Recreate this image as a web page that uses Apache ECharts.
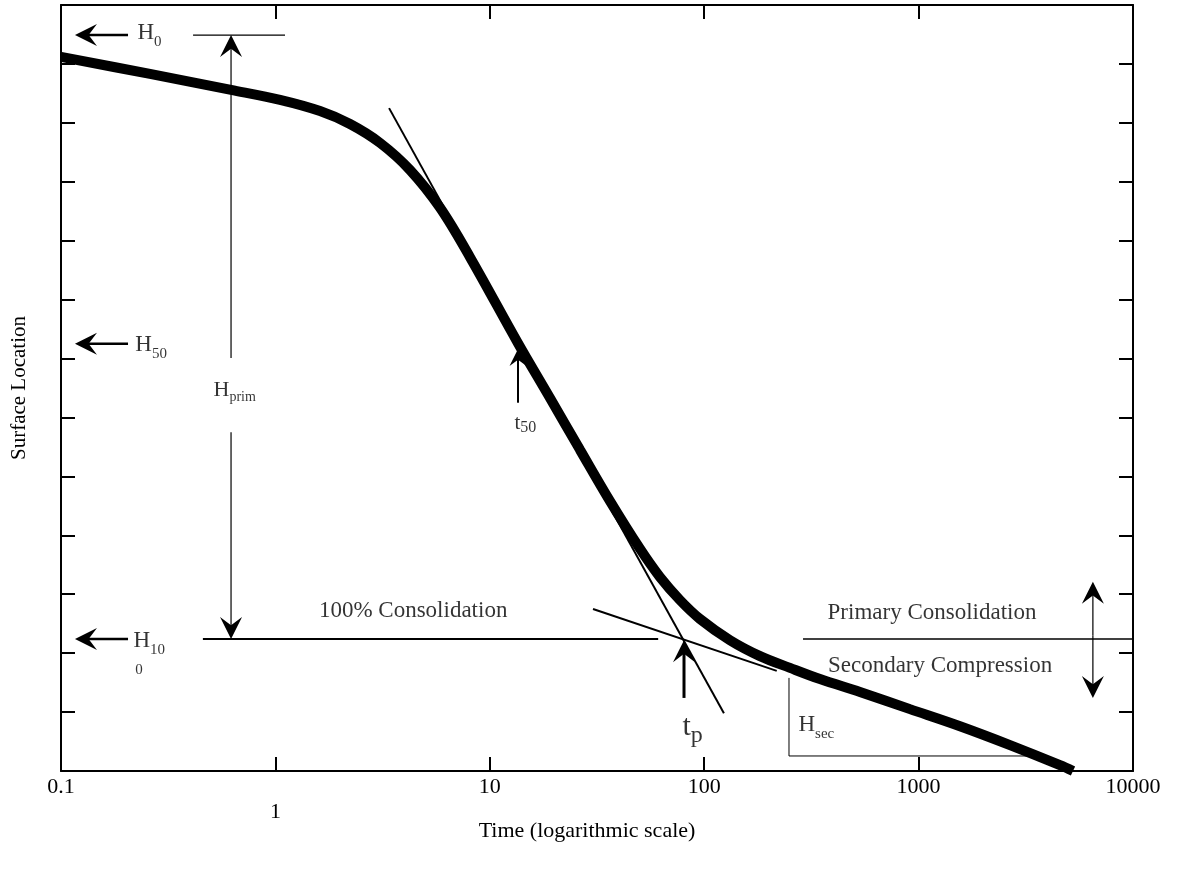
<!DOCTYPE html>
<html><head><meta charset="utf-8">
<script src="https://cdn.jsdelivr.net/npm/echarts@6/dist/echarts.min.js"></script>
<style>html,body{margin:0;padding:0;background:#fff}#c{width:1180px;height:874px}</style>
</head><body><div id="c"></div>
<script>
// ---- data (time on log scale, surface location in arbitrary units 0..13) ----
const xTickValues = [0.1, 1, 10, 100, 1000, 10000];
const curveTime = [0.1, 0.26, 0.621, 1.051, 1.615, 2.228, 3.075, 4.244, 5.858, 8.085, 13.54, 19.09, 26.35, 36.36, 50.19, 62.2, 77.1, 95.6, 131.9, 182.1, 251.3, 346.8, 532.9, 911.5, 1560, 2669, 4565, 5250];
const curveLocation = [12.12, 11.83, 11.56, 11.39, 11.20, 10.98, 10.66, 10.20, 9.56, 8.72, 7.26, 6.33, 5.45, 4.58, 3.77, 3.29, 2.90, 2.58, 2.22, 1.95, 1.75, 1.56, 1.34, 1.05, 0.76, 0.44, 0.10, 0.0];
const steepTangent = [[3.39, 11.25], [123.6, 0.98]];
const secondaryTangent = [[30.3, 2.75], [218, 1.70]];
const h100LineLeft = [[0.459, 2.24], [61, 2.24]];
const h100LineRight = [[289, 2.24], [10000, 2.24]];
const h0Line = [[0.413, 12.49], [1.109, 12.49]];
const hsecBox = [[248.6, 1.58], [248.6, 0.255], [3802, 0.255]];
// arrows: [tailX, tailY, tipX, tipY]
const levelArrows = [[0.2054, 12.49, 0.1162, 12.49], [0.2054, 7.25, 0.1162, 7.25], [0.2054, 2.24, 0.1162, 2.24]];
const hprimArrows = [[0.621, 7.01, 0.621, 12.49], [0.621, 5.75, 0.621, 2.24]];
const t50Arrow = [[13.54, 6.25, 13.54, 7.16]];
const tpArrow = [[80.5, 1.24, 80.5, 2.22]];
const zoneArrow = [[6500, 2.3, 6500, 3.21], [6500, 2.3, 6500, 1.24]];
// text labels
const leftLabels = [
  {name: '{m|H}{s|0}', value: [0.226, 12.53]},
  {name: '{m|H}{s|50}', value: [0.221, 7.23]},
  {name: '{m|H}{s|10}', value: [0.2167, 2.21]},
  {name: '{z|0}', value: [0.221, 1.71]},
  {name: '{m|H}{s|sec}', value: [273.8, 0.774]}
];
const hprimLabel = [{name: '{pm|H}{ps|prim}', value: [0.512, 6.47]}];
const tLabels = [
  {name: '{tm|t}{ts|50}', value: [12.97, 5.90]},
  {name: '{bm|t}{bs|p}', value: [78.7, 0.74]}
];
const centerLabels = [
  {name: '100% Consolidation', value: [4.39, 2.72]},
  {name: 'Primary Consolidation', value: [1155, 2.68]},
  {name: 'Secondary Compression', value: [1259, 1.78]}
];

// ---- chart ----
const FONT = 'Liberation Serif';
const chart = echarts.init(document.getElementById('c'));

function pairs(arr) { return arr.map(p => [p[0], p[1]]); }

function arrowSeries(data, shaftW, headL, headW) {
  return {
    type: 'custom', silent: true, z: 5,
    encode: {x: [0, 2], y: [1, 3]},
    data: data,
    renderItem: function (params, api) {
      const a = api.coord([api.value(0), api.value(1)]);
      const b = api.coord([api.value(2), api.value(3)]);
      const dx = b[0] - a[0], dy = b[1] - a[1];
      const len = Math.sqrt(dx * dx + dy * dy) || 1;
      const ux = dx / len, uy = dy / len, nx = -uy, ny = ux;
      const bx = b[0] - ux * headL, by = b[1] - uy * headL;
      const notch = [b[0] - ux * headL * 0.62, b[1] - uy * headL * 0.62];
      const pts = [[b[0], b[1]], [bx + nx * headW / 2, by + ny * headW / 2], notch, [bx - nx * headW / 2, by - ny * headW / 2]];
      return {
        type: 'group',
        children: [
          {type: 'line', shape: {x1: a[0], y1: a[1], x2: notch[0] + ux * 2, y2: notch[1] + uy * 2}, style: {stroke: '#000', lineWidth: shaftW}},
          {type: 'polygon', shape: {points: pts}, style: {fill: '#000'}}
        ]
      };
    }
  };
}

function lineSeries(data, w) {
  return {type: 'line', data: pairs(data), showSymbol: false, symbol: 'none', silent: true,
    lineStyle: {color: '#000', width: w}, z: 3, animation: false};
}

const richStyles = {
  m: {fontFamily: FONT, fontSize: 23, lineHeight: 33, color: '#000'},
  s: {fontFamily: FONT, fontSize: 15, lineHeight: 15, verticalAlign: 'bottom', color: '#000'},
  z: {fontFamily: FONT, fontSize: 15, lineHeight: 15, color: '#000'},
  pm: {fontFamily: FONT, fontSize: 22, lineHeight: 30, color: '#000'},
  ps: {fontFamily: FONT, fontSize: 14, lineHeight: 14, verticalAlign: 'bottom', color: '#000'},
  tm: {fontFamily: FONT, fontSize: 21, lineHeight: 25, color: '#000'},
  ts: {fontFamily: FONT, fontSize: 16, lineHeight: 16, verticalAlign: 'bottom', color: '#000'},
  bm: {fontFamily: FONT, fontSize: 30, lineHeight: 40, color: '#000'},
  bs: {fontFamily: FONT, fontSize: 24, lineHeight: 24, verticalAlign: 'bottom', color: '#000'}
};

function textSeries(data, position, fontSize) {
  return {
    type: 'scatter', data: data, symbolSize: 1, silent: true, z: 6,
    itemStyle: {color: 'rgba(0,0,0,0)'},
    label: {show: true, position: position, distance: 0, formatter: p => p.name,
      fontFamily: FONT, fontSize: fontSize || 23, color: '#000',
      textBorderWidth: 0, textBorderColor: 'transparent', rich: richStyles}
  };
}

const xAxisBase = {
  type: 'log', logBase: 10, min: 0.1, max: 10000,
  splitLine: {show: false}, minorTick: {show: false},
  axisLine: {show: true, onZero: false, lineStyle: {color: '#000', width: 2}},
  axisTick: {show: true, inside: true, length: 14, lineStyle: {color: '#000', width: 2}}
};
const yAxisBase = {
  type: 'value', min: 0, max: 13, interval: 1,
  splitLine: {show: false},
  axisLine: {show: true, onZero: false, lineStyle: {color: '#000', width: 2}},
  axisTick: {show: true, inside: true, length: 14, lineStyle: {color: '#000', width: 2}},
  axisLabel: {show: false}
};

chart.setOption({
  animation: false,
  backgroundColor: '#fff',
  grid: {left: 61, right: 47, top: 5, bottom: 103},
  xAxis: [
    Object.assign({}, xAxisBase, {
      position: 'bottom',
      name: 'Time (logarithmic scale)', nameLocation: 'middle', nameGap: 49, nameMoveOverlap: false,
      nameTextStyle: {fontFamily: FONT, fontSize: 22, color: '#000', padding: [0, 20, 0, 0]},
      axisLabel: {show: true, margin: 4, fontFamily: FONT, fontSize: 22, lineHeight: 25, color: '#000',
        showMinLabel: true, showMaxLabel: true,
        formatter: function (v) {
          const r = xTickValues.find(t => Math.abs(Math.log10(t) - Math.log10(v)) < 1e-6);
          if (r === undefined) return '';
          return r === 1 ? '\n1' : String(r);
        }}
    }),
    Object.assign({}, xAxisBase, {position: 'top', axisLabel: {show: false}})
  ],
  yAxis: [
    Object.assign({}, yAxisBase, {
      position: 'left',
      name: 'Surface Location', nameLocation: 'middle', nameGap: 31, nameRotate: 90,
      nameTextStyle: {fontFamily: FONT, fontSize: 21, color: '#000'}
    }),
    Object.assign({}, yAxisBase, {position: 'right'})
  ],
  series: [
    {type: 'line', data: curveTime.map((t, i) => [t, curveLocation[i]]), smooth: 0.35,
      showSymbol: false, symbol: 'none', silent: true, z: 4,
      lineStyle: {color: '#000', width: 10}},
    lineSeries(steepTangent, 2),
    lineSeries(secondaryTangent, 2),
    lineSeries(h100LineLeft, 2),
    lineSeries(h100LineRight, 1.5),
    lineSeries(h0Line, 1.2),
    lineSeries(hsecBox, 1),
    arrowSeries(levelArrows, 2.5, 22, 22),
    arrowSeries(hprimArrows, 1.2, 22, 22),
    arrowSeries(t50Arrow, 2, 17, 17),
    arrowSeries(tpArrow, 3, 22, 22),
    arrowSeries(zoneArrow, 1.2, 22, 22),
    textSeries(leftLabels, 'right'),
    textSeries(hprimLabel, 'right'),
    textSeries(tLabels, 'right'),
    textSeries(centerLabels, 'inside', 23)
  ]
});
</script>
</body></html>
